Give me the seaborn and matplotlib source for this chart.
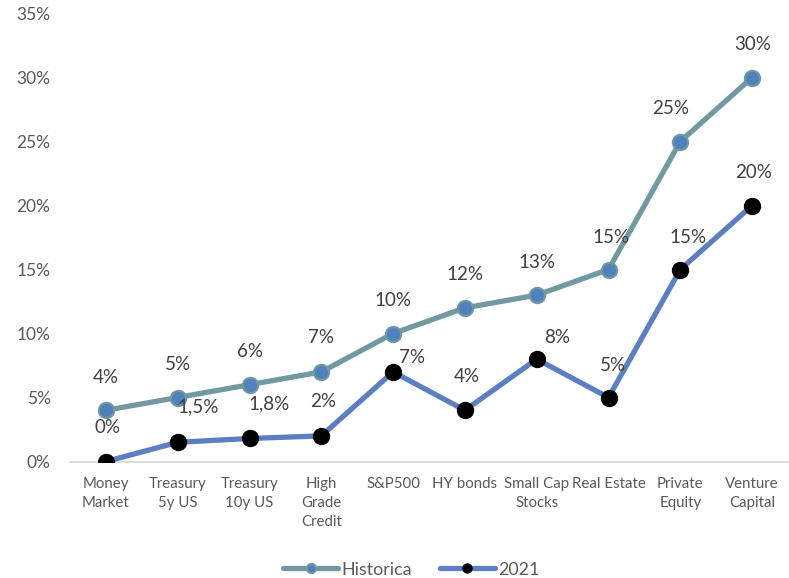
import matplotlib
matplotlib.use("Agg")
import matplotlib.pyplot as plt
import seaborn as sns
import pandas as pd
import numpy as np

categories = ["Money\nMarket", "Treasury\n5y US", "Treasury\n10y US", "High\nGrade\nCredit",
              "S&P500", "HY bonds", "Small Cap\nStocks", "Real Estate", "Private\nEquity",
              "Venture\nCapital"]
historica = [4, 5, 6, 7, 10, 12, 13, 15, 25, 30]
year_2021 = [0, 1.5, 1.8, 2, 7, 4, 8, 5, 15, 20]
historica_labels = ["4%", "5%", "6%", "7%", "10%", "12%", "13%", "15%", "25%", "30%"]
labels_2021 = ["0%", "1,5%", "1,8%", "2%", "7%", "4%", "8%", "5%", "15%", "20%"]
y_ticks = [0, 5, 10, 15, 20, 25, 30, 35]

# label offsets in pixels (dx, dy) from each point
hist_offsets = [(0, 33), (0, 33), (0, 33), (0, 34), (0, 33), (0, 33), (0, 33), (2, 32), (-10, 33), (1, 33)]
offsets_2021 = [(2, 34), (20, 35), (20, 35), (2, 34), (19, 14), (2, 34), (20, 22), (4, 32), (8, 32), (1, 33)]

sns.set_theme(style="white")
plt.rcParams["font.family"] = ["Lato", "DejaVu Sans"]

fig = plt.figure(figsize=(7.89, 5.78), dpi=100)
ax = fig.add_axes([70 / 789, (578 - 461.5) / 578, 718 / 789, 448 / 578])

x = np.arange(len(categories))
df = pd.DataFrame({"x": np.concatenate([x, x]),
                   "value": historica + year_2021,
                   "serie": ["Historica"] * len(x) + ["2021"] * len(x)})

hist_color = "#7199A0"
blue_line = "#5B7FC0"

sns.lineplot(data=df[df.serie == "Historica"], x="x", y="value", ax=ax, color=hist_color,
             linewidth=3.8, marker="o", markersize=11, markerfacecolor="#4F81BD",
             markeredgecolor=hist_color, markeredgewidth=1.5, label="Historica", sort=False)
sns.lineplot(data=df[df.serie == "2021"], x="x", y="value", ax=ax, color=blue_line,
             linewidth=3.8, marker="o", markersize=12.5, markerfacecolor="black",
             markeredgecolor="black", markeredgewidth=0, label="2021", sort=False)

label_color = "#404040"
for xi, v, t, (dx, dy) in zip(x, historica, historica_labels, hist_offsets):
    ax.annotate(t, (xi, v), xytext=(dx, dy), textcoords="offset pixels",
                ha="center", va="center", fontsize=13.5, color=label_color)
for xi, v, t, (dx, dy) in zip(x, year_2021, labels_2021, offsets_2021):
    ax.annotate(t, (xi, v), xytext=(dx, dy), textcoords="offset pixels",
                ha="center", va="center", fontsize=13.5, color=label_color)

ax.set_xlim(-0.5, len(categories) - 0.5)
ax.set_ylim(0, 35)
ax.set_xticks(x)
ax.set_xticklabels(categories, fontsize=10.8, color="#595959", linespacing=1.45, va="top")
ax.set_yticks(y_ticks)
ax.set_yticklabels([f"{t}%" for t in y_ticks], fontsize=12.5, color="#595959")
ax.tick_params(axis="x", length=0, pad=11)
ax.tick_params(axis="y", length=0, pad=14)
ax.set_xlabel("")
ax.set_ylabel("")
for s in ["top", "right", "left"]:
    ax.spines[s].set_visible(False)
ax.spines["bottom"].set_color("#D9D9D9")
ax.spines["bottom"].set_linewidth(1.3)
ax.spines["bottom"].set_zorder(0)
ax.grid(False)

leg = ax.legend(loc="lower center", bbox_to_anchor=(0.475, -0.283), ncol=2, frameon=False,
                fontsize=12.8, handlelength=3.1, handletextpad=0.15, columnspacing=1.6,
                markerscale=0.6, borderaxespad=0.2)
for t in leg.get_texts():
    t.set_color("#595959")

fig.savefig("out.png", dpi=100)
